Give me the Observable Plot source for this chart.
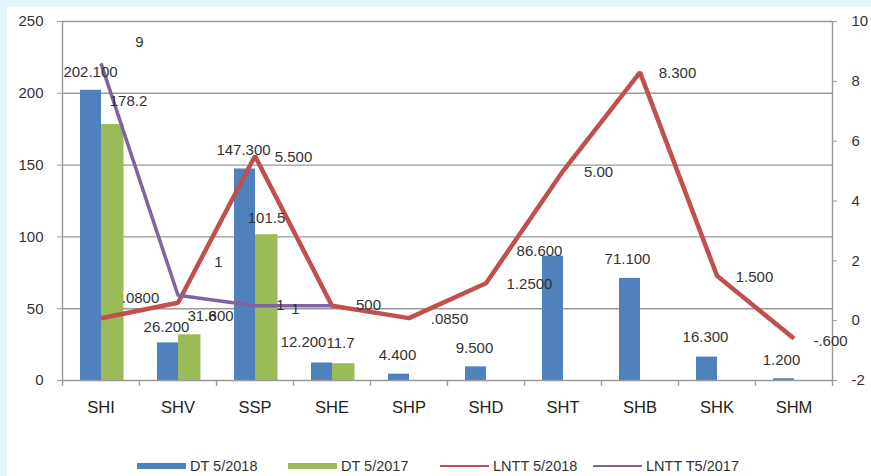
<!DOCTYPE html>
<html><head><meta charset="utf-8">
<script src="https://cdn.jsdelivr.net/npm/d3@7"></script>
<script src="https://cdn.jsdelivr.net/npm/@observablehq/plot@0.6"></script>
<style>
html,body{margin:0;padding:0;}
body{width:871px;height:476px;background:#e3f5fa;position:relative;overflow:hidden;font-family:"Liberation Sans",Arial,sans-serif;}
#panel{position:absolute;left:7px;top:7px;width:864px;height:469px;background:#fff;}
#chart{position:absolute;left:0;top:0;}
#legend{position:absolute;left:0;top:0;width:864px;height:469px;}
.sw{position:absolute;}
.lt{position:absolute;font-size:14.5px;color:#333;line-height:16px;white-space:nowrap;}
</style></head><body>
<div id="panel"><div id="chart"></div><div id="legend"></div></div>
<script>
// ---- data ----
const categories = ["SHI","SHV","SSP","SHE","SHP","SHD","SHT","SHB","SHK","SHM"];
const dt2018 = [202.1, 26.2, 147.3, 12.2, 4.4, 9.5, 86.6, 71.1, 16.3, 1.2];
const dt2017 = [178.2, 31.8, 101.5, 11.7];
const lntt2018 = [0.08, 0.6, 5.5, 0.5, 0.085, 1.25, 5.0, 8.3, 1.5, -0.6];
const lntt2017 = [8.6, 0.85, 0.5, 0.5];
const dt2018Labels = ["202.100","26.200","147.300","12.200","4.400","9.500","86.600","71.100","16.300","1.200"];
const dt2017Labels = ["178.2","31.8","101.5","11.7"];
const lntt2018Labels = [".0800",".600","5.500","500",".0850","1.2500","5.00","8.300","1.500","-.600"];
const lntt2017Labels = ["9","1","1","1"];
const leftTicks = [0, 50, 100, 150, 200, 250];
const rightTicks = [-2, 0, 2, 4, 6, 8, 10];
const seriesNames = ["DT 5/2018","DT 5/2017","LNTT 5/2018","LNTT T5/2017"];

// ---- label layout nudges (pixels) ----
const nudge18 = [[-10.5,-18],[-11.5,-16],[-11.5,-18.5],[-28.5,-20.5],[-11.5,-18.7],[-11.5,-18.4],[-23.5,-4.6],[-12.5,-19],[-11.5,-19.6],[-12.5,-18.3]];
const nudge17 = [[27.5,-23],[24,-18.3],[11.5,-17],[8.5,-21]];
const nudgeL18 = [[39.5,-20],[41,13.8],[38.5,1.4],[36.5,-1],[40.5,1.4],[43.5,1.2],[35.5,1.4],[37.5,1.2],[37.5,1.7],[36.5,2.9]];
const nudgeL17 = [[38.5,-20.8],[40.5,-32.7],[40.5,3.8],[-51.5,-0.2]];

const colors = {b:"#4f81bd", g:"#9bbb59", r:"#c0504d", p:"#8064a2"};
const K = 250 / 12;                 // right axis (-2..10) mapped onto left (0..250)
const toLeft = v => (v + 2) * K;

const bars18 = categories.map((c, i) => ({cat: c, v: dt2018[i], label: dt2018Labels[i], n: nudge18[i]}));
const bars17 = dt2017.map((v, i) => ({cat: categories[i], v, label: dt2017Labels[i], n: nudge17[i]}));
const red = lntt2018.map((v, i) => ({cat: categories[i], y: toLeft(v), label: lntt2018Labels[i], n: nudgeL18[i]}));
const purple = lntt2017.map((v, i) => ({cat: categories[i], y: toLeft(v), label: lntt2017Labels[i], n: nudgeL17[i]}));

const labelMarks = [];
for (const d of bars18) labelMarks.push(Plot.text([d], {x: "cat", y: "v", text: "label", dx: d.n[0], dy: d.n[1], fill: "#333"}));
for (const d of bars17) labelMarks.push(Plot.text([d], {x: "cat", y: "v", text: "label", dx: d.n[0], dy: d.n[1], fill: "#333"}));
for (const d of red) labelMarks.push(Plot.text([d], {x: "cat", y: "y", text: "label", dx: d.n[0], dy: d.n[1], fill: "#333"}));
for (const d of purple) labelMarks.push(Plot.text([d], {x: "cat", y: "y", text: "label", dx: d.n[0], dy: d.n[1], fill: "#333"}));

const BW = 77 / 2;
const chart = Plot.plot({
  width: 864, height: 430,
  marginLeft: 55, marginRight: 39, marginTop: 14, marginBottom: 57,
  style: {fontFamily: "'Liberation Sans', Arial, sans-serif", fontSize: "15px", background: "transparent", overflow: "visible"},
  x: {type: "band", domain: categories, padding: 0, axis: null},
  y: {domain: [0, 250], axis: null},
  marks: [
    Plot.ruleY(leftTicks.slice(1), {stroke: "#999", strokeWidth: 1.4}),
    Plot.barY(bars18, {x: "cat", y: "v", fill: colors.b, insetLeft: 18, insetRight: 38}),
    Plot.barY(bars17, {x: "cat", y: "v", fill: colors.g, insetLeft: 39, insetRight: 15.5}),
    Plot.ruleX(categories, {x: d => d, dx: -BW, y1: 0, y2: -4, stroke: "#999", strokeWidth: 1.4}),
    Plot.ruleX(categories.slice(-1), {x: d => d, dx: BW, y1: 0, y2: -4, stroke: "#999", strokeWidth: 1.4}),
    Plot.ruleY([0], {stroke: "#999", strokeWidth: 1.4}),
    Plot.ruleX(categories.slice(0, 1), {x: d => d, dx: -BW, y1: 0, y2: 250, stroke: "#999", strokeWidth: 1.4}),
    Plot.ruleX(categories.slice(-1), {x: d => d, dx: BW, y1: 0, y2: 250, stroke: "#999", strokeWidth: 1.4}),
    Plot.lineY(red, {x: "cat", y: "y", stroke: colors.r, strokeWidth: 4.5, strokeLinejoin: "miter", strokeLinecap: "butt"}),
    Plot.lineY(purple, {x: "cat", y: "y", stroke: colors.p, strokeWidth: 3.5, strokeLinejoin: "miter", strokeLinecap: "butt"}),
    Plot.axisY({anchor: "left", ticks: leftTicks, tickSize: 5, tickPadding: 14, stroke: "#999", fill: "#333", label: null}),
    Plot.axisY({anchor: "right", ticks: rightTicks.map(toLeft), tickFormat: (d) => String(Math.round(d / K - 2)), tickSize: 4, tickPadding: 15, stroke: "#999", fill: "#333", label: null}),
    Plot.axisX({tickSize: 0, tickPadding: 21, fill: "#222", fontSize: 16.5, label: null}),
    ...labelMarks
  ]
});
document.getElementById("chart").appendChild(chart);

// ---- legend ----
const legend = document.getElementById("legend");
const items = [
  {name: seriesNames[0], color: colors.b, h: 6, left: 130},
  {name: seriesNames[1], color: colors.g, h: 6, left: 281},
  {name: seriesNames[2], color: colors.r, h: 2, left: 433},
  {name: seriesNames[3], color: colors.p, h: 2, left: 586}
];
const cy = 459;
for (const it of items) {
  const s = document.createElement("div");
  s.className = "sw";
  s.style.left = it.left + "px";
  s.style.width = "49px";
  s.style.height = it.h + "px";
  s.style.top = (cy - it.h / 2) + "px";
  s.style.background = it.color;
  legend.appendChild(s);
  const t = document.createElement("div");
  t.className = "lt";
  t.textContent = it.name;
  t.style.left = (it.left + 53) + "px";
  t.style.top = (cy - 8) + "px";
  legend.appendChild(t);
}
</script>
</body></html>
